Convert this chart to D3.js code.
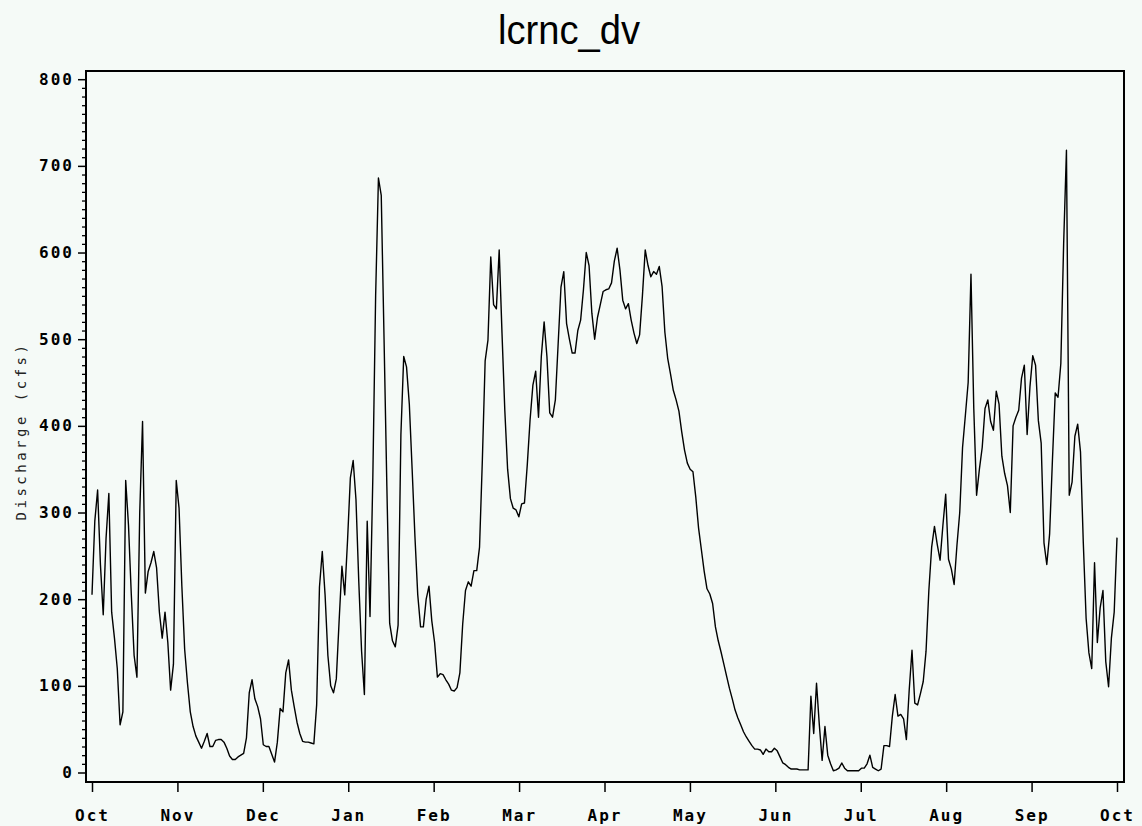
<!DOCTYPE html>
<html><head><meta charset="utf-8">
<script src="https://cdn.jsdelivr.net/npm/d3@7"></script>
<style>
html,body{margin:0;padding:0;background:#f5faf7;}
svg{display:block;}
</style></head><body>
<svg id="chart" width="1142" height="826"></svg>
<script>
const chartTitle = "lcrnc_dv";
const yTitle = "Discharge (cfs)";
const monthLabels = ["Oct","Nov","Dec","Jan","Feb","Mar","Apr","May","Jun","Jul","Aug","Sep","Oct"];
const yTickValues = [0,100,200,300,400,500,600,700,800];
const yMinorStep = 10;
// daily discharge, Oct 1 through Oct 1 of the next year
const discharge = [
205,290,326,240,182,270,322,185,155,120,
55,70,337,285,205,135,110,300,405,207,
232,242,255,236,185,155,185,150,95,125,
337,305,215,142,103,70,53,42,35,28,
36,45,30,30,37,38,38,35,28,19,
15,15,18,20,22,40,92,107,85,76,
62,32,30,30,21,12,35,74,70,115,
130,95,76,58,45,36,35,35,34,33,
78,214,255,205,135,100,92,108,175,238,
205,268,340,360,315,220,140,90,290,180,
340,550,686,666,500,330,172,152,145,170,
390,480,468,425,350,272,205,168,168,200,
215,175,150,110,114,113,107,102,95,94,
98,115,171,210,220,215,233,233,260,360,
475,499,595,540,535,603,507,418,350,316,
305,303,295,310,311,355,407,447,463,410,
480,520,480,415,410,430,495,560,578,518,
500,484,484,510,522,557,600,585,530,500,
525,540,555,557,558,565,590,605,580,545,
535,541,522,507,495,505,550,603,585,572,
578,575,584,561,508,478,460,441,430,417,
393,372,357,350,347,318,282,257,232,212,
206,195,168,152,139,125,111,97,85,72,
63,55,47,41,36,31,27,27,26,21,
27,24,24,28,25,18,11,9,6,4,
4,4,3,3,3,3,88,45,103,55,
14,53,20,10,2,3,5,11,5,2,
2,2,2,2,5,5,10,20,6,4,
2,4,31,31,30,65,90,65,67,62,
38,95,141,80,78,91,105,140,210,260,
284,263,245,285,321,246,235,217,262,300,
375,412,450,575,420,320,350,375,420,430,
405,395,440,425,365,345,331,300,400,410,
418,455,470,390,445,481,470,406,380,265,
240,275,360,438,433,472,610,718,320,335,
388,402,370,265,178,138,120,242,150,190,
210,128,99,155,185,271
];

const W = 1142, H = 826;
const frame = {left: 86, right: 1124, top: 71, bottom: 782};
const svg = d3.select("#chart");
svg.append("rect").attr("width", W).attr("height", H).attr("fill", "#f5faf7");

const x = d3.scaleLinear().domain([0, discharge.length - 1]).range([92, 1117]);
const xm = d3.scaleLinear().domain([0, monthLabels.length - 1]).range([92, 1117]);
const y = d3.scaleLinear().domain([0, 800]).range([772.5, 79.2]);

const tickFont = (sel) => sel.selectAll("text")
  .attr("font-family", "'DejaVu Sans Mono', monospace")
  .attr("font-weight", "bold")
  .attr("font-size", 16)
  .attr("letter-spacing", "2px")
  .attr("fill", "#000");

// minor y ticks
const minorVals = d3.range(0, 801, yMinorStep).filter(v => v % 100 !== 0);
const gMinor = svg.append("g").attr("transform", `translate(${frame.left},0)`)
  .call(d3.axisLeft(y).tickValues(minorVals).tickSize(4).tickFormat(""));
gMinor.select(".domain").remove();
gMinor.selectAll("line").attr("stroke", "#000").attr("stroke-width", 1.3);

// major y ticks
const gY = svg.append("g").attr("transform", `translate(${frame.left},0)`)
  .call(d3.axisLeft(y).tickValues(yTickValues).tickSize(8).tickPadding(4).tickFormat(d3.format("d")));
gY.select(".domain").remove();
gY.selectAll("line").attr("stroke", "#000").attr("stroke-width", 1.5);
tickFont(gY);

// x axis (month ticks)
const gX = svg.append("g").attr("transform", `translate(0,${frame.bottom})`)
  .call(d3.axisBottom(xm).tickValues(d3.range(monthLabels.length)).tickSize(10).tickPadding(18)
    .tickFormat(i => monthLabels[i]));
gX.select(".domain").remove();
gX.selectAll("line").attr("stroke", "#000").attr("stroke-width", 1.5);
tickFont(gX);

// data line
const line = d3.line().x((d, i) => x(i)).y(d => y(d));
svg.append("path").datum(discharge)
  .attr("d", line)
  .attr("fill", "none")
  .attr("stroke", "#000")
  .attr("stroke-width", 1.4)
  .attr("stroke-linejoin", "round");

// frame
svg.append("rect")
  .attr("x", frame.left).attr("y", frame.top)
  .attr("width", frame.right - frame.left).attr("height", frame.bottom - frame.top)
  .attr("fill", "none").attr("stroke", "#000").attr("stroke-width", 2);

// title
svg.append("text")
  .attr("x", 569).attr("y", 44)
  .attr("text-anchor", "middle")
  .attr("font-family", "'Liberation Sans Narrow', 'Liberation Sans', Arial, sans-serif")
  .attr("font-size", 40)
  .attr("textLength", 142)
  .attr("lengthAdjust", "spacingAndGlyphs")
  .attr("fill", "#000")
  .text(chartTitle);

// y-axis title
svg.append("text")
  .attr("transform", "translate(26,431) rotate(-90)")
  .attr("text-anchor", "middle")
  .attr("font-family", "'DejaVu Sans Mono', monospace")
  .attr("font-size", 14)
  .attr("letter-spacing", "3.5px")
  .attr("fill", "#222")
  .text(yTitle);
</script>
</body></html>
